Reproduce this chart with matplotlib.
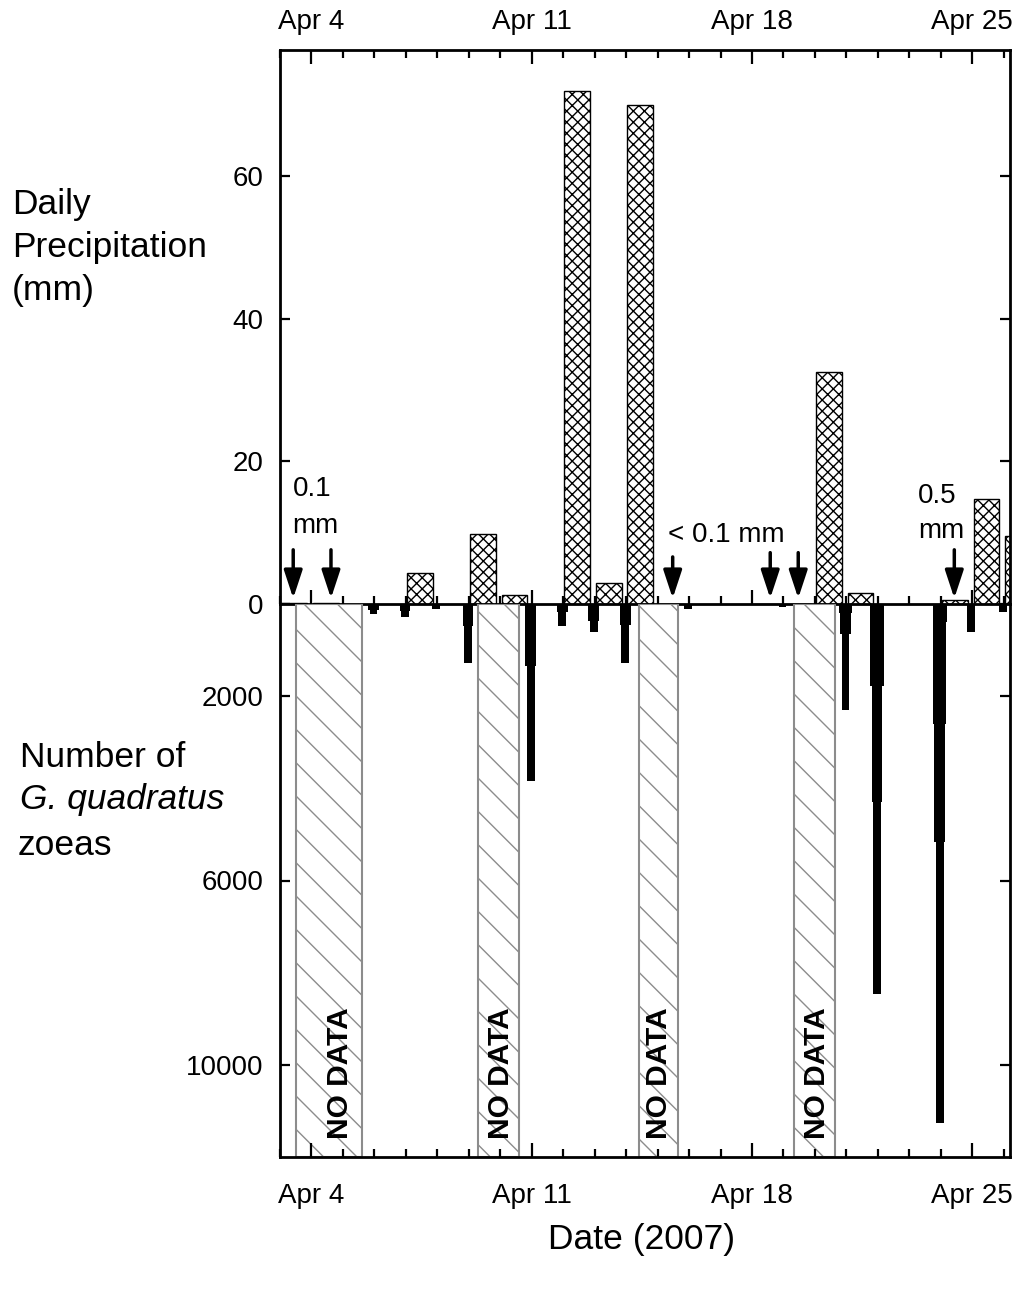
import numpy as np
import matplotlib
matplotlib.use('Agg')
import matplotlib.pyplot as plt
from matplotlib.ticker import FixedLocator, MultipleLocator

plt.rcParams['font.family'] = ['Liberation Sans', 'DejaVu Sans']
plt.rcParams['hatch.linewidth'] = 1.0

# daily precipitation (mm); each bar covers the day after its tick
RAIN_DAY = [3, 4, 7, 9, 10, 12, 13, 14, 15, 18, 19, 20, 21, 24, 25, 26]
RAIN_MM = [0.1, 0.1, 4.3, 9.8, 1.3, 72.0, 3.0, 70.0, 0.05, 0.05, 0.05, 32.5, 1.5, 0.5, 14.7, 9.5]

# zoea counts per sampling day, several samples per day (0 = none)
ZOEA_DAY = [6, 7, 8, 9, 11, 12, 13, 14, 16, 18, 19, 21, 22, 24, 25, 26]
ZOEA_A = [220, 280, 100, 1280, 3850, 480, 610, 1280, 100, 30, 60, 2300, 8460, 11260, 610, 180]
ZOEA_B = [120, 150, 0, 480, 1350, 170, 370, 450, 0, 0, 0, 650, 4300, 5170, 0, 0]
ZOEA_C = [0, 0, 0, 0, 0, 0, 0, 0, 0, 0, 0, 200, 1780, 2600, 0, 0]
ZOEA_D = [0, 0, 0, 0, 0, 0, 0, 0, 0, 0, 0, 0, 0, 390, 0, 0]

# days without plankton samples
NODATA_START = [3.5, 9.3, 14.4, 19.35]
NODATA_END = [5.6, 10.6, 15.65, 20.65]
NODATA_TEXT_X = [4.9, 10.02, 15.06, 20.08]

TICK_DAYS = [4, 11, 18, 25]
TICK_LABELS = ['Apr 4', 'Apr 11', 'Apr 18', 'Apr 25']

# small-rain markers
ARROW_X = [3.42, 4.62, 15.48, 18.58, 19.47, 24.43]
ARROW_TOP = [7.6, 7.6, 6.6, 7.2, 7.2, 7.6]

FS_TICK = 20
FS_LAB = 25.5

W, H = 1023, 1293
fig = plt.figure(figsize=(W / 100, H / 100), dpi=100)
L, R = 280 / W, 1010 / W
fy = lambda p: 1 - p / H
ax1 = fig.add_axes([L, fy(604), R - L, fy(50) - fy(604)])
ax2 = fig.add_axes([L, fy(1157), R - L, fy(604) - fy(1157)], sharex=ax1)

# --- precipitation (top) ---
ax1.bar(np.array(RAIN_DAY) + 0.45, RAIN_MM, width=0.82, facecolor='white',
        edgecolor='black', hatch='xxx', lw=1.0, zorder=2)
for x, top in zip(ARROW_X, ARROW_TOP):
    ax1.annotate('', xy=(x, 0.8), xytext=(x, top),
                 arrowprops=dict(arrowstyle='-|>,head_width=0.28,head_length=0.85',
                                 mutation_scale=20, lw=2.5, color='black',
                                 shrinkA=0, shrinkB=0))
ax1.text(3.40, 15.2, '0.1', fontsize=FS_TICK, va='baseline')
ax1.text(3.40, 10.0, 'mm', fontsize=FS_TICK, va='baseline')
ax1.text(15.33, 8.7, '< 0.1 mm', fontsize=FS_TICK, va='baseline')
ax1.text(23.27, 14.2, '0.5', fontsize=FS_TICK, va='baseline')
ax1.text(23.27, 9.3, 'mm', fontsize=FS_TICK, va='baseline')

ax1.set_xlim(3.0, 26.2)
ax1.set_ylim(0, (604 - 50) / 7.13)
ax1.set_yticks([0, 20, 40, 60])
ax1.xaxis.set_major_locator(FixedLocator(TICK_DAYS))
ax1.xaxis.set_minor_locator(MultipleLocator(1))
ax1.set_xticklabels(TICK_LABELS)
ax1.tick_params(axis='x', which='both', direction='in', top=True, bottom=True,
                labeltop=True, labelbottom=False, width=1.6, pad=11, labelsize=FS_TICK)
ax1.tick_params(axis='x', which='major', length=10)
ax1.tick_params(axis='x', which='minor', length=5.5)
ax1.tick_params(axis='y', direction='in', left=True, right=True, length=7,
                width=1.6, pad=12, labelsize=FS_TICK)

# --- zoeas (bottom, axis pointing down) ---
for lo, hi in zip(NODATA_START, NODATA_END):
    ax2.axvspan(lo, hi, facecolor='white', edgecolor='#8c8c8c', hatch='\\',
                lw=1.5, zorder=1)
for tx in NODATA_TEXT_X:
    ax2.text(tx, 10170, 'NO DATA', rotation=90, fontsize=21.5, fontweight='bold',
             ha='center', va='center', zorder=3)

zx = np.array(ZOEA_DAY) - 0.03
for vals, wd in [(ZOEA_D, 0.46), (ZOEA_C, 0.42), (ZOEA_B, 0.34), (ZOEA_A, 0.25)]:
    ax2.bar(zx, vals, width=wd, color='black', lw=0, zorder=4)

ax2.set_ylim(12000, 0)
ax2.set_yticks([2000, 6000, 10000])
ax2.tick_params(axis='x', which='both', direction='in', top=False, bottom=True,
                labeltop=False, labelbottom=True, width=1.6, pad=19, labelsize=FS_TICK)
ax2.tick_params(axis='x', which='major', length=10)
ax2.tick_params(axis='x', which='minor', length=5.5)
ax2.tick_params(axis='y', direction='in', left=True, right=True, length=7,
                width=1.6, pad=12, labelsize=FS_TICK)
ax2.spines['top'].set_visible(False)

for ax in (ax1, ax2):
    for s in ax.spines.values():
        s.set_linewidth(2.0)
    ax.set_facecolor('none')

# --- labels ---
for txt, x, y, st in [('Daily', 12, 214, 'normal'), ('Precipitation', 12, 257, 'normal'),
                      ('(mm)', 12, 300, 'normal'), ('Number of', 20, 767, 'normal'),
                      ('G. quadratus', 20, 809, 'italic'), ('zoeas', 18, 855, 'normal')]:
    fig.text(x / W, fy(y), txt, fontsize=FS_LAB, style=st, va='baseline', ha='left')
fig.text(642 / W, fy(1240), 'Date (2007)', fontsize=FS_LAB, ha='center', va='center')

fig.savefig('out.png', dpi=100)
